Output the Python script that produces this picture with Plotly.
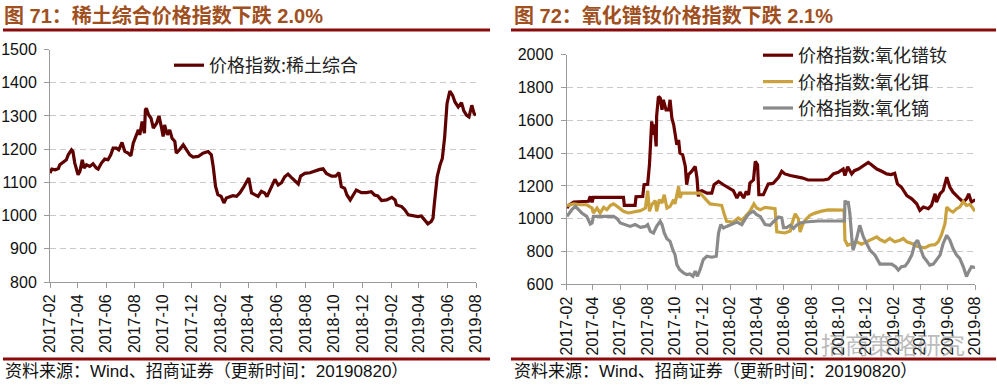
import plotly.graph_objects as go

# ---------------- data: left chart (稀土综合) ----------------
re_dates = [
    "2017-02-20", "2017-02-24", "2017-03-03", "2017-03-10", "2017-03-13", "2017-03-20", "2017-03-27",
    "2017-03-31", "2017-04-07", "2017-04-10", "2017-04-14", "2017-04-21", "2017-04-25", "2017-04-30",
    "2017-05-04", "2017-05-09", "2017-05-16", "2017-05-23", "2017-05-30", "2017-06-03", "2017-06-10",
    "2017-06-17", "2017-06-24", "2017-06-30", "2017-07-05", "2017-07-12", "2017-07-17", "2017-07-24",
    "2017-07-30", "2017-08-06", "2017-08-12", "2017-08-17", "2017-08-24", "2017-08-28", "2017-08-31",
    "2017-09-05", "2017-09-10", "2017-09-12", "2017-09-14", "2017-09-19", "2017-09-24", "2017-09-29",
    "2017-10-06", "2017-10-11", "2017-10-16", "2017-10-20", "2017-10-23", "2017-10-29", "2017-11-03",
    "2017-11-08", "2017-11-14", "2017-11-17", "2017-11-24", "2017-12-02", "2017-12-09", "2017-12-16",
    "2017-12-23", "2018-01-03", "2018-01-13", "2018-01-24", "2018-01-31", "2018-02-04", "2018-02-09",
    "2018-02-14", "2018-02-21", "2018-02-27", "2018-03-04", "2018-03-11", "2018-03-18", "2018-03-26",
    "2018-04-02", "2018-04-09", "2018-04-16", "2018-04-21", "2018-04-27", "2018-05-04", "2018-05-11",
    "2018-05-18", "2018-05-25", "2018-05-30", "2018-06-09", "2018-06-16", "2018-06-23", "2018-06-30",
    "2018-07-07", "2018-07-14", "2018-07-21", "2018-07-28", "2018-08-05", "2018-08-10", "2018-08-19",
    "2018-08-30", "2018-09-09", "2018-09-20", "2018-09-27", "2018-10-04", "2018-10-15", "2018-10-24",
    "2018-10-31", "2018-11-05", "2018-11-12", "2018-11-17", "2018-11-24", "2018-11-30", "2018-12-07",
    "2018-12-18", "2018-12-29", "2019-01-08", "2019-01-15", "2019-01-22", "2019-01-30", "2019-02-10",
    "2019-02-21", "2019-02-28", "2019-03-03", "2019-03-14", "2019-03-21", "2019-03-28", "2019-04-08",
    "2019-04-18", "2019-04-25", "2019-05-02", "2019-05-09", "2019-05-16", "2019-05-20", "2019-05-23",
    "2019-05-29", "2019-06-04", "2019-06-09", "2019-06-14", "2019-06-19", "2019-06-25", "2019-07-01",
    "2019-07-06", "2019-07-13", "2019-07-20", "2019-07-25", "2019-07-31", "2019-08-05", "2019-08-11",
    "2019-08-16", "2019-08-20",
]
re_values = [
    1128, 1140, 1138, 1142, 1153, 1160, 1168,
    1183, 1198, 1193, 1158, 1123, 1133, 1168,
    1143, 1153, 1148, 1156, 1143, 1140, 1158,
    1170, 1168, 1183, 1203, 1203, 1198, 1220,
    1193, 1188, 1180, 1218, 1243, 1258, 1243,
    1283, 1248, 1318, 1323, 1303, 1293, 1263,
    1278, 1300, 1268, 1238, 1273, 1243, 1258,
    1233, 1223, 1188, 1198, 1213, 1198, 1183,
    1176, 1178, 1188, 1193, 1183, 1148, 1088,
    1063, 1058, 1038, 1053, 1056, 1060, 1058,
    1068, 1083, 1103, 1113, 1068, 1063, 1058,
    1073, 1068, 1057, 1087, 1109, 1092, 1099,
    1117, 1125, 1115, 1107, 1095, 1119, 1127,
    1129, 1135, 1139, 1141, 1127, 1119, 1119,
    1129, 1087, 1082, 1062, 1047, 1062, 1077,
    1069, 1069, 1072, 1062, 1059, 1045, 1047,
    1055, 1047, 1032, 1027, 1017, 1002, 1000,
    997, 999, 987, 975, 982, 992, 1037,
    1117, 1152, 1172, 1237, 1337, 1375, 1362,
    1342, 1327, 1340, 1315, 1302, 1297, 1332,
    1307, 1302,
]

# ---------------- data: right chart ----------------
prnd_dates = [
    "2017-02-21", "2017-02-25", "2017-03-08", "2017-03-23", "2017-04-10", "2017-04-14", "2017-04-18",
    "2017-04-21", "2017-06-27", "2017-06-29", "2017-07-23", "2017-07-25", "2017-08-09", "2017-08-12",
    "2017-08-20", "2017-08-24", "2017-08-29", "2017-09-02", "2017-09-04", "2017-09-08", "2017-09-09",
    "2017-09-13", "2017-09-17", "2017-09-21", "2017-09-24", "2017-09-30", "2017-10-06", "2017-10-09",
    "2017-10-13", "2017-10-17", "2017-10-20", "2017-10-24", "2017-10-28", "2017-10-31", "2017-11-06",
    "2017-11-12", "2017-11-15", "2017-11-19", "2017-11-26", "2017-12-04", "2017-12-08", "2017-12-11",
    "2017-12-14", "2017-12-19", "2017-12-30", "2018-01-10", "2018-01-15", "2018-01-25", "2018-02-05",
    "2018-02-16", "2018-02-27", "2018-03-07", "2018-03-14", "2018-03-22", "2018-03-28", "2018-04-02",
    "2018-04-05", "2018-04-13", "2018-04-17", "2018-04-22", "2018-04-25", "2018-05-05", "2018-05-13",
    "2018-05-16", "2018-05-27", "2018-06-08", "2018-06-15", "2018-06-22", "2018-07-04", "2018-07-15",
    "2018-07-30", "2018-08-13", "2018-08-28", "2018-09-16", "2018-09-27", "2018-10-08", "2018-10-19",
    "2018-10-30", "2018-11-03", "2018-11-09", "2018-11-18", "2018-11-24", "2018-12-03", "2018-12-14",
    "2018-12-25", "2019-01-01", "2019-01-13", "2019-01-24", "2019-02-04", "2019-02-14", "2019-02-22",
    "2019-02-28", "2019-03-09", "2019-03-21", "2019-04-01", "2019-04-12", "2019-04-19", "2019-04-27",
    "2019-05-08", "2019-05-15", "2019-05-23", "2019-05-26", "2019-06-03", "2019-06-10", "2019-06-18",
    "2019-06-25", "2019-07-02", "2019-07-13", "2019-07-25", "2019-08-01", "2019-08-06", "2019-08-12",
    "2019-08-18", "2019-08-20",
]
prnd_values = [
    1065, 1081, 1102, 1102, 1106, 1136, 1100,
    1130, 1130, 1081, 1081, 1134, 1136, 1207,
    1210, 1329, 1593, 1512, 1575, 1441, 1625,
    1745, 1735, 1664, 1725, 1664, 1664, 1725,
    1613, 1573, 1522, 1451, 1480, 1400, 1390,
    1319, 1207, 1268, 1288, 1319, 1248, 1136,
    1166, 1171, 1156, 1156, 1207, 1227, 1207,
    1187, 1171, 1126, 1162, 1126, 1166, 1146,
    1217, 1237, 1349, 1329, 1146, 1146, 1200,
    1212, 1216, 1253, 1289, 1273, 1263, 1257,
    1249, 1236, 1236, 1236, 1242, 1273, 1283,
    1303, 1263, 1317, 1273, 1293, 1303, 1323,
    1343, 1329, 1303, 1289, 1273, 1269, 1277,
    1212, 1192, 1141, 1121, 1091, 1051, 1071,
    1061, 1081, 1152, 1101, 1152, 1172, 1253,
    1192, 1162, 1131, 1101, 1121, 1152, 1101,
    1111, 1105,
]

er_dates = [
    "2017-02-21", "2017-03-08", "2017-03-23", "2017-04-06", "2017-04-18", "2017-04-21", "2017-04-29",
    "2017-05-06", "2017-05-14", "2017-05-21", "2017-05-29", "2017-06-05", "2017-06-13", "2017-06-20",
    "2017-06-27", "2017-07-08", "2017-07-20", "2017-08-04", "2017-08-15", "2017-08-20", "2017-08-24",
    "2017-08-29", "2017-09-06", "2017-09-09", "2017-09-15", "2017-09-21", "2017-09-26", "2017-10-02",
    "2017-10-09", "2017-10-17", "2017-10-20", "2017-10-24", "2017-10-28", "2017-10-31", "2017-11-04",
    "2017-12-15", "2017-12-22", "2017-12-30", "2018-01-06", "2018-01-21", "2018-02-01", "2018-02-07",
    "2018-02-12", "2018-02-27", "2018-03-10", "2018-03-18", "2018-03-25", "2018-04-05", "2018-04-14",
    "2018-04-20", "2018-04-28", "2018-05-09", "2018-05-31", "2018-06-04", "2018-06-22", "2018-07-04",
    "2018-07-09", "2018-07-15", "2018-07-22", "2018-07-26", "2018-07-31", "2018-08-06", "2018-08-17",
    "2018-08-28", "2018-09-12", "2018-09-27", "2018-11-01", "2018-11-03", "2018-11-09", "2018-11-18",
    "2018-11-29", "2018-12-10", "2018-12-21", "2019-01-01", "2019-01-13", "2019-01-20", "2019-01-31",
    "2019-02-11", "2019-02-22", "2019-03-06", "2019-03-13", "2019-03-21", "2019-04-01", "2019-04-12",
    "2019-04-23", "2019-04-30", "2019-05-11", "2019-05-23", "2019-05-30", "2019-06-06", "2019-06-14",
    "2019-06-18", "2019-06-25", "2019-07-02", "2019-07-10", "2019-07-17", "2019-07-25", "2019-08-01",
    "2019-08-09", "2019-08-18", "2019-08-20",
]
er_values = [
    1080, 1090, 1085, 1085, 1065, 1035, 1065,
    1035, 1069, 1055, 1081, 1090, 1075, 1061,
    1045, 1035, 1041, 1049, 1065, 1171, 1045,
    1085, 1110, 1045, 1116, 1096, 1146, 1065,
    1075, 1116, 1090, 1146, 1197, 1126, 1156,
    1156, 1136, 1116, 1090, 1085, 1081, 1025,
    984, 980, 1004, 990, 1014, 1045, 1090,
    1065, 1055, 1069, 1061, 920, 913, 925,
    980, 1030, 1000, 919, 960, 990, 1020,
    1034, 1046, 1054, 1052, 869, 838, 848,
    859, 845, 859, 869, 889, 873, 859,
    879, 859, 869, 879, 859, 849, 832,
    824, 822, 838, 842, 859, 899, 970,
    1071, 1051, 1040, 1061, 1071, 1105, 1081,
    1087, 1046, 1045,
]

dy_dates = [
    "2017-02-21", "2017-03-04", "2017-03-12", "2017-03-19", "2017-03-26", "2017-04-06", "2017-04-14",
    "2017-04-18", "2017-04-21", "2017-06-05", "2017-06-13", "2017-06-20", "2017-07-01", "2017-07-12",
    "2017-07-23", "2017-08-04", "2017-08-15", "2017-08-20", "2017-08-26", "2017-09-02", "2017-09-09",
    "2017-09-17", "2017-09-21", "2017-09-26", "2017-10-02", "2017-10-09", "2017-10-15", "2017-10-20",
    "2017-10-24", "2017-10-30", "2017-11-08", "2017-11-15", "2017-11-22", "2017-11-29", "2017-12-04",
    "2017-12-09", "2017-12-15", "2017-12-22", "2017-12-30", "2018-01-10", "2018-01-20", "2018-01-25",
    "2018-01-30", "2018-02-05", "2018-02-12", "2018-02-23", "2018-03-07", "2018-03-18", "2018-03-29",
    "2018-04-05", "2018-04-13", "2018-04-20", "2018-04-28", "2018-05-09", "2018-05-20", "2018-05-27",
    "2018-06-08", "2018-06-15", "2018-06-19", "2018-06-26", "2018-07-04", "2018-07-11", "2018-07-18",
    "2018-07-26", "2018-08-06", "2018-09-05", "2018-11-02", "2018-11-03", "2018-11-07", "2018-11-10",
    "2018-11-14", "2018-11-18", "2018-11-21", "2018-11-29", "2018-12-06", "2018-12-14", "2018-12-21",
    "2018-12-29", "2019-01-09", "2019-01-20", "2019-02-15", "2019-02-24", "2019-03-02", "2019-03-09",
    "2019-03-17", "2019-03-24", "2019-04-01", "2019-04-08", "2019-04-14", "2019-04-19", "2019-04-27",
    "2019-05-04", "2019-05-11", "2019-05-19", "2019-05-26", "2019-06-03", "2019-06-10", "2019-06-18",
    "2019-06-25", "2019-07-02", "2019-07-10", "2019-07-17", "2019-07-25", "2019-08-01", "2019-08-06",
    "2019-08-12", "2019-08-18", "2019-08-20",
]
dy_values = [
    1014, 1055, 1075, 1055, 1035, 1014, 968,
    974, 1014, 1014, 1000, 974, 964, 953,
    964, 947, 953, 964, 923, 913, 953,
    984, 964, 913, 878, 862, 811, 781,
    720, 690, 669, 659, 663, 649, 680,
    649, 690, 751, 771, 765, 771, 913,
    964, 943, 953, 964, 980, 964, 1014,
    1035, 1045, 1025, 1014, 964, 960, 980,
    1010, 1006, 946, 946, 960, 940, 960,
    974, 980, 986, 986, 1111, 1090, 1107,
    1030, 889, 808, 879, 960, 889, 849,
    808, 778, 723, 723, 707, 687, 707,
    711, 737, 778, 849, 869, 829, 768,
    744, 717, 723, 748, 778, 849, 899,
    869, 818, 778, 758, 707, 647, 677,
    707, 703, 705,
]

tick_dates = [
    "2017-02-20", "2017-04-20", "2017-06-20", "2017-08-20", "2017-10-20", "2017-12-20",
    "2018-02-20", "2018-04-20", "2018-06-20", "2018-08-20", "2018-10-20", "2018-12-20",
    "2019-02-20", "2019-04-20", "2019-06-20", "2019-08-20",
]
tick_labels = [
    "2017-02", "2017-04", "2017-06", "2017-08", "2017-10", "2017-12",
    "2018-02", "2018-04", "2018-06", "2018-08", "2018-10", "2018-12",
    "2019-02", "2019-04", "2019-06", "2019-08",
]

left_title = "图 71：稀土综合价格指数下跌 2.0%"
right_title = "图 72：氧化镨钕价格指数下跌 2.1%"
source_text = "资料来源：Wind、招商证券（更新时间：20190820）"
names = ["价格指数:稀土综合", "价格指数:氧化镨钕", "价格指数:氧化铒", "价格指数:氧化镝"]

# ---------------- styles ----------------
W, H = 997, 389
DARK = "#5E0000"
PRND = "#680000"
GOLD = "#C9A23E"
GRAY = "#8A8A8A"
RULE = "#8B0A0A"
TITLE_C = "#A0501E"
FONT = "Liberation Sans, Arial, Noto Sans CJK SC, sans-serif"
CJK = "Noto Sans CJK SC, sans-serif"

fig = go.Figure()
fig.add_trace(go.Scatter(x=re_dates, y=re_values, mode="lines", name=names[0],
                         line=dict(color=DARK, width=3.2), xaxis="x", yaxis="y", legend="legend"))
fig.add_trace(go.Scatter(x=prnd_dates, y=prnd_values, mode="lines", name=names[1],
                         line=dict(color=PRND, width=3.2), xaxis="x2", yaxis="y2", legend="legend2"))
fig.add_trace(go.Scatter(x=er_dates, y=er_values, mode="lines", name=names[2],
                         line=dict(color=GOLD, width=3.2), xaxis="x2", yaxis="y2", legend="legend2"))
fig.add_trace(go.Scatter(x=dy_dates, y=dy_values, mode="lines", name=names[3],
                         line=dict(color=GRAY, width=3.2), xaxis="x2", yaxis="y2", legend="legend2"))


def px_x(p):
    return p / W


def px_y(p):
    return 1 - p / H


xcommon = dict(type="date", tickmode="array", tickvals=tick_dates, ticktext=tick_labels,
               tickangle=-90, showgrid=False, showline=True, linecolor="#9a9a9a", linewidth=1,
               ticks="outside", ticklen=5, tickcolor="#9a9a9a", zeroline=False, automargin=False,
               tickfont=dict(family=FONT, size=16, color="#111"), fixedrange=True)
ycommon = dict(showline=True, linecolor="#9a9a9a", linewidth=1, ticks="outside", ticklen=5,
               tickcolor="#9a9a9a", showgrid=True, gridcolor="#c9c9c9", griddash="6px,4px",
               gridwidth=1, zeroline=False, tickfont=dict(family=FONT, size=16, color="#111"),
               ticklabelstandoff=4, automargin=False)

fig.update_layout(
    width=W, height=H, margin=dict(l=0, r=0, t=0, b=0, autoexpand=False),
    paper_bgcolor="white", plot_bgcolor="white",
    xaxis=dict(domain=[px_x(50), px_x(476)], range=["2017-02-20", "2019-08-20"], anchor="y", **xcommon),
    yaxis=dict(domain=[px_y(282), px_y(49.5)], range=[800, 1500], dtick=100, anchor="x", **ycommon),
    xaxis2=dict(domain=[px_x(566.5), px_x(975)], range=["2017-02-20", "2019-08-20"], anchor="y2", **xcommon),
    yaxis2=dict(domain=[px_y(284.3), px_y(54.7)], range=[600, 2000], dtick=200, anchor="x2", **ycommon),
    legend=dict(x=px_x(169), y=px_y(47), xanchor="left", yanchor="top", bgcolor="rgba(0,0,0,0)",
                font=dict(family=CJK, size=18, color="#222"), itemwidth=30, tracegroupgap=0),
    legend2=dict(x=px_x(758), y=px_y(37), xanchor="left", yanchor="top", bgcolor="rgba(0,0,0,0)",
                 font=dict(family=CJK, size=18, color="#222"), itemwidth=30, tracegroupgap=0),
    showlegend=True,
)

# title rules and footer rules
for x0, x1 in [(3, 490), (511, 996)]:
    fig.add_shape(type="line", xref="paper", yref="paper", x0=px_x(x0), x1=px_x(x1),
                  y0=px_y(30), y1=px_y(30), line=dict(color=RULE, width=3))
    fig.add_shape(type="line", xref="paper", yref="paper", x0=px_x(x0), x1=px_x(x1),
                  y0=px_y(359), y1=px_y(359), line=dict(color=RULE, width=3))

for xs, txt in [(2, left_title), (512, right_title)]:
    fig.add_annotation(x=px_x(xs), y=px_y(15.5), xref="paper", yref="paper", text="<b>" + txt + "</b>",
                       showarrow=False, xanchor="left", yanchor="middle",
                       font=dict(family=FONT, size=20, color=TITLE_C))

for xs in [3, 512]:
    fig.add_annotation(x=px_x(xs), y=px_y(371), xref="paper", yref="paper", text=source_text,
                       showarrow=False, xanchor="left", yanchor="middle",
                       font=dict(family=FONT, size=17, color="#111"))

# watermark
fig.add_annotation(x=px_x(893), y=px_y(343), xref="paper", yref="paper", text="招商策略研究",
                   showarrow=False, xanchor="center", yanchor="middle",
                   font=dict(family=CJK, size=24, color="rgba(120,120,120,0.5)"))

fig.write_html("out.html", config={"displayModeBar": False},
               post_script="document.body.style.margin='0px';document.body.style.overflow='hidden';")
